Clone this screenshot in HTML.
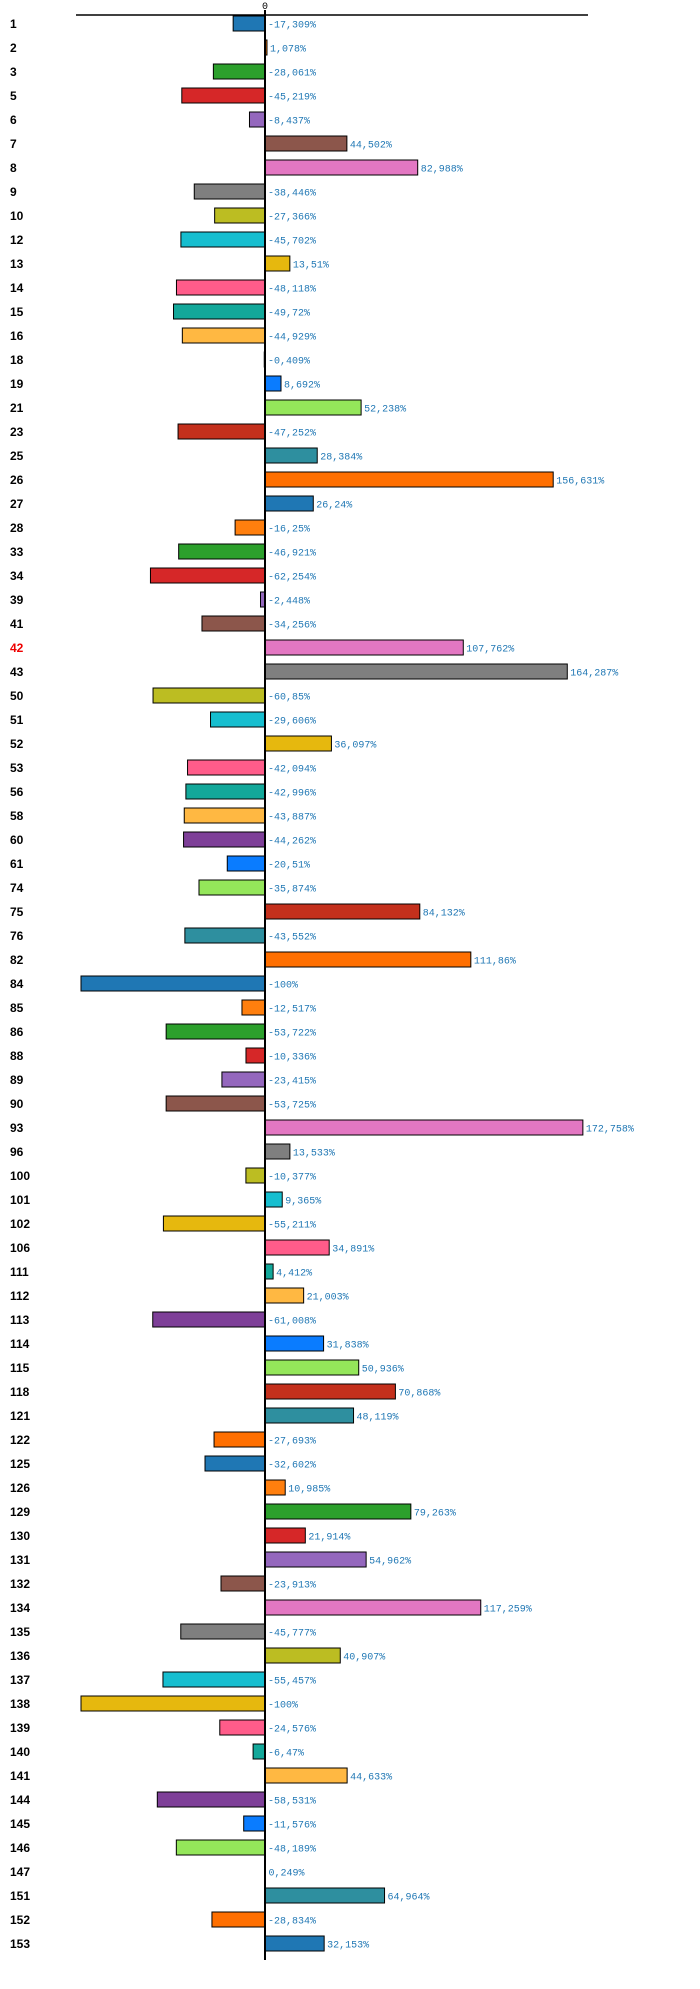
<!DOCTYPE html>
<html><head><meta charset="utf-8"><style>
html,body{margin:0;padding:0;background:#fff;width:700px;height:1989px;overflow:hidden}
</style></head><body>
<svg id="chart" width="700" height="1989" xmlns="http://www.w3.org/2000/svg"></svg>
<script>
const categories=["1","2","3","5","6","7","8","9","10","12","13","14","15","16","18","19","21","23","25","26","27","28","33","34","39","41","42","43","50","51","52","53","56","58","60","61","74","75","76","82","84","85","86","88","89","90","93","96","100","101","102","106","111","112","113","114","115","118","121","122","125","126","129","130","131","132","134","135","136","137","138","139","140","141","144","145","146","147","151","152","153"];
const values=[-17.309,1.078,-28.061,-45.219,-8.437,44.502,82.988,-38.446,-27.366,-45.702,13.51,-48.118,-49.72,-44.929,-0.409,8.692,52.238,-47.252,28.384,156.631,26.24,-16.25,-46.921,-62.254,-2.448,-34.256,107.762,164.287,-60.85,-29.606,36.097,-42.094,-42.996,-43.887,-44.262,-20.51,-35.874,84.132,-43.552,111.86,-100,-12.517,-53.722,-10.336,-23.415,-53.725,172.758,13.533,-10.377,9.365,-55.211,34.891,4.412,21.003,-61.008,31.838,50.936,70.868,48.119,-27.693,-32.602,10.985,79.263,21.914,54.962,-23.913,117.259,-45.777,40.907,-55.457,-100,-24.576,-6.47,44.633,-58.531,-11.576,-48.189,0.249,64.964,-28.834,32.153];
const highlighted=["42"];
const palette=["#1f77b4","#ff7f0e","#2ca02c","#d62728","#9467bd","#8c564b","#e377c2","#7f7f7f","#bcbd22","#17becf","#e6b80e","#ff5c8a","#13a89a","#ffb842","#7e3f98","#0a7cff","#94e65a","#c4301c","#2e8f9f","#ff6f00"];
const NS="http://www.w3.org/2000/svg";
const svg=document.getElementById('chart');
const x0=265,pxPer=1.84,top0=23.5,step=24,bh=15;
const xs=v=>x0+v*pxPer;
const ys=i=>top0+i*step;
function mk(t,a){const e=document.createElementNS(NS,t);for(const k in a)e.setAttribute(k,a[k]);svg.appendChild(e);return e;}
const tl=mk('line',{x1:76,y1:15,x2:588,y2:15,stroke:'#000','stroke-width':1.5});


const zt=mk('text',{x:x0,y:9,'font-family':'Liberation Mono, monospace','font-size':10,'text-anchor':'middle',fill:'#000'});
zt.textContent='0';


categories.forEach((c,i)=>{
  const v=values[i],y=ys(i);
  const lab=mk('text',{x:10,y:y+4.5,'font-family':'Liberation Sans, sans-serif','font-size':12,'font-weight':'bold',fill:highlighted.includes(c)?'#e00':'#000'});
  lab.textContent=c;
  
  
  const xa=Math.min(xs(0),xs(v)),w=Math.abs(xs(v)-xs(0));
  const r=mk('rect',{x:xa,y:y-bh/2,width:w,height:bh,fill:palette[i%palette.length],stroke:'#000','stroke-width':1});
  
  
  const tx=v>0?xs(v)+3:x0+3;
  const t=mk('text',{x:tx,y:y+4,'font-family':'Liberation Mono, monospace','font-size':10,fill:'#1f77b4'});
  t.textContent=String(v).replace('.',',')+'%';
  
  
});
const ax=mk('line',{x1:x0,y1:10,x2:x0,y2:1960,stroke:'#000','stroke-width':2});


</script>
</body></html>
